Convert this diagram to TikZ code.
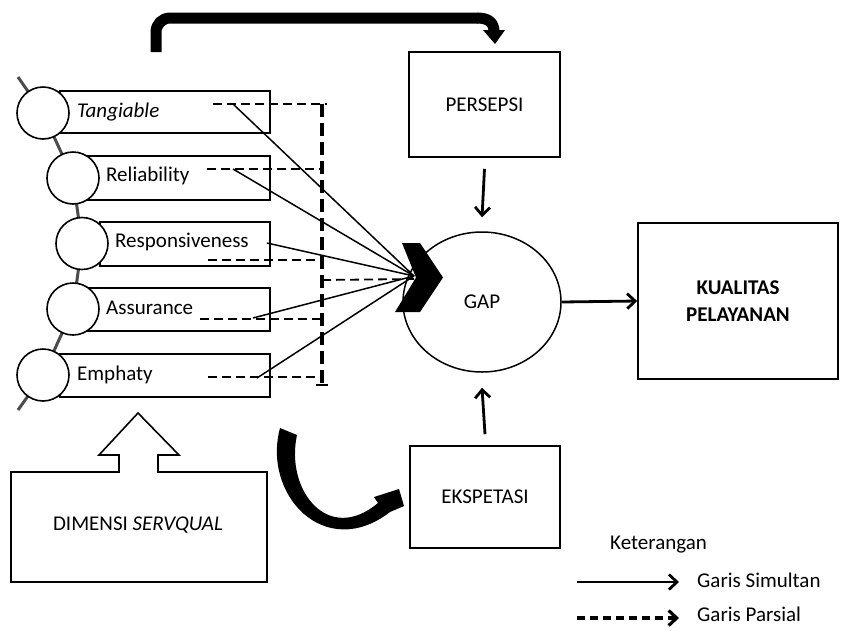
\documentclass[tikz,border=0pt]{standalone}
\usepackage{fontspec}
\setmainfont{Carlito}
\usetikzlibrary{shapes.geometric,arrows.meta}
\begin{document}
\begin{tikzpicture}[x=1pt,y=-1pt,
  dimbox/.style={draw,line width=1.6pt,inner sep=0pt,fill=white},
  lbl/.style={font=\fontsize{21}{25}\selectfont,inner sep=0pt,anchor=west},
  ctext/.style={font=\fontsize{21}{25}\selectfont,inner sep=0pt},
  fan/.style={line width=1.5pt},
  partial/.style={line width=1.8pt,dash pattern=on 9pt off 5pt},
  bigarrow/.style={line width=2.8pt,-{Straight Barb[length=8pt,width=15pt]}},
  knot/.style={circle,draw,line width=1.6pt,fill=white,minimum size=52pt,inner sep=0pt},
  chain/.style={line width=3pt,draw=black!70},
  rbox/.style={draw,line width=1.6pt,inner sep=0pt,font=\fontsize{21}{25}\selectfont}
]
\useasboundingbox (0,0) rectangle (842,630);

% chain behind circles
\coordinate (ctop) at (18,77);
\coordinate (cbot) at (18,410);
\coordinate (k1) at (43,113);
\coordinate (k2) at (73,178);
\coordinate (k3) at (82,243.5);
\coordinate (k4) at (73,309);
\coordinate (k5) at (43,375);
\draw[chain] (ctop) -- (k1) -- (k2) -- (k3) -- (k4) -- (k5) -- (cbot);

% dimension boxes
\node[dimbox,minimum width=210pt,minimum height=42pt] (b1) at (165,112) {};
\node[dimbox,minimum width=185pt,minimum height=44pt] (b2) at (177.5,178) {};
\node[dimbox,minimum width=170pt,minimum height=44pt] (b3) at (185,244) {};
\node[dimbox,minimum width=185pt,minimum height=43pt] (b4) at (177.5,309.5) {};
\node[dimbox,minimum width=210pt,minimum height=43pt] (b5) at (165,375.5) {};

% circles
\node[knot] (c1) at (k1) {};
\node[knot] (c2) at (k2) {};
\node[knot] (c3) at (k3) {};
\node[knot] (c4) at (k4) {};
\node[knot] (c5) at (k5) {};

% labels
\node[lbl] (t1) at (77,112) {\itshape Tangiable};
\node[lbl] (t2) at (106,176) {Reliability};
\node[lbl] (t3) at (115,242) {Responsiveness};
\node[lbl] (t4) at (106,308) {Assurance};
\node[lbl] (t5) at (77,375) {Emphaty};

% start points
\coordinate (s1) at (233,104);
\coordinate (s2) at (233,169);
\coordinate (s3) at (267,243);
\coordinate (s4) at (253,318);
\coordinate (s5) at (257,378);
\coordinate (d1) at (213,104);
\coordinate (d2) at (207,169);
\coordinate (d3) at (208,260);
\coordinate (d4) at (200,319);
\coordinate (d5) at (208,377);
\coordinate (vtop) at (322,104);
\coordinate (vbot) at (322,385);
\coordinate (vmid) at (322,280);
\coordinate (conv) at (414,276);
\coordinate (notch) at (414,279);

% GAP ellipse
\node[draw,ellipse,line width=1.5pt,minimum width=158pt,minimum height=140pt,inner sep=0pt,font=\fontsize{21}{25}\selectfont] (gap) at (482,302) {GAP};

% partial dashed lines
\draw[partial] (d1) -- (327,104);
\draw[partial] (d2) -- (vtop |- d2);
\draw[partial] (d3) -- (vtop |- d3);
\draw[partial] (d4) -- (vtop |- d4);
\draw[partial] (d5) -- (vtop |- d5);
\draw[line width=3.2pt,dash pattern=on 13pt off 6pt] (vtop) -- (vbot);
\draw[line width=1.8pt] (316,385) -- (328,385);
\draw[partial] (vmid) -- (notch);

% simultaneous lines
\draw[fan] (s1) -- (conv);
\draw[fan] (s2) -- (conv);
\draw[fan] (s3) -- (conv);
\draw[fan] (s4) -- (conv);
\draw[fan] (s5) -- (conv);

% chevron
\fill[black] (402,243) -- (420,243) -- (443,277.5) -- (420,312) -- (395,312) -- (416,277.5) -- cycle;

% boxes on the right
\node[rbox,minimum width=151pt,minimum height=105pt] (pers) at (484.5,104.5) {PERSEPSI};
\node[rbox,minimum width=150pt,minimum height=102pt] (eksp) at (485,497) {EKSPETASI};
\node[rbox,minimum width=200pt,minimum height=156pt,font=\bfseries\fontsize{21}{27}\selectfont,align=center] (kual) at (738,301) {KUALITAS\\PELAYANAN};

\draw[bigarrow] ([yshift=-11pt]pers.south) -- ([yshift=14pt]gap.north);
\draw[bigarrow] ([yshift=11pt]eksp.north) -- ([yshift=-15pt]gap.south);
\draw[bigarrow] (gap.east) -- (kual.west);

% top thick arrow
\coordinate (ta) at (156,52);
\coordinate (tb) at (494,32);
\draw[line width=11pt,rounded corners=14pt] (ta) -- (156,18) -- (478,18);
\draw[line width=11pt] (477,18) .. controls (488,18) and (494,22) .. (tb);
\fill[black] (483,30) -- (505,30) -- (495,44) -- cycle;

% bottom curved arrow
\fill[black] (280,428) .. controls (262,495) and (325,562) .. (390,512)
  -- (404,506) -- (399,489) -- (374,497) -- (378,503)
  .. controls (328,545) and (285,490) .. (297,435) -- cycle;

% DIMENSI SERVQUAL
\draw[line width=1.6pt] (11,472) -- (119,472) -- (119,455) -- (99,455) -- (138,413) -- (179,455) -- (158,455) -- (158,472) -- (267,472) -- (267,582) -- (11,582) -- cycle;
\node[ctext] (dim) at (138,525) {DIMENSI \textit{SERVQUAL}};

% legend
\node[lbl] (ket) at (610,545) {Keterangan};
\coordinate (l1a) at (577,582);
\coordinate (l1b) at (679,582);
\coordinate (l2a) at (577,618);
\coordinate (l2b) at (679,618);
\draw[line width=2.8pt,-{Straight Barb[length=8pt,width=15pt]}] (l1a) -- (l1b);
\draw[line width=3.2pt,dash pattern=on 8pt off 5pt,-{Straight Barb[length=8pt,width=15pt]}] (l2a) -- (l2b);
\node[lbl] (gp) at (697,614) {Garis Parsial};
\node[lbl] (gs) at (697,580) {Garis Simultan};
\end{tikzpicture}
\end{document}
